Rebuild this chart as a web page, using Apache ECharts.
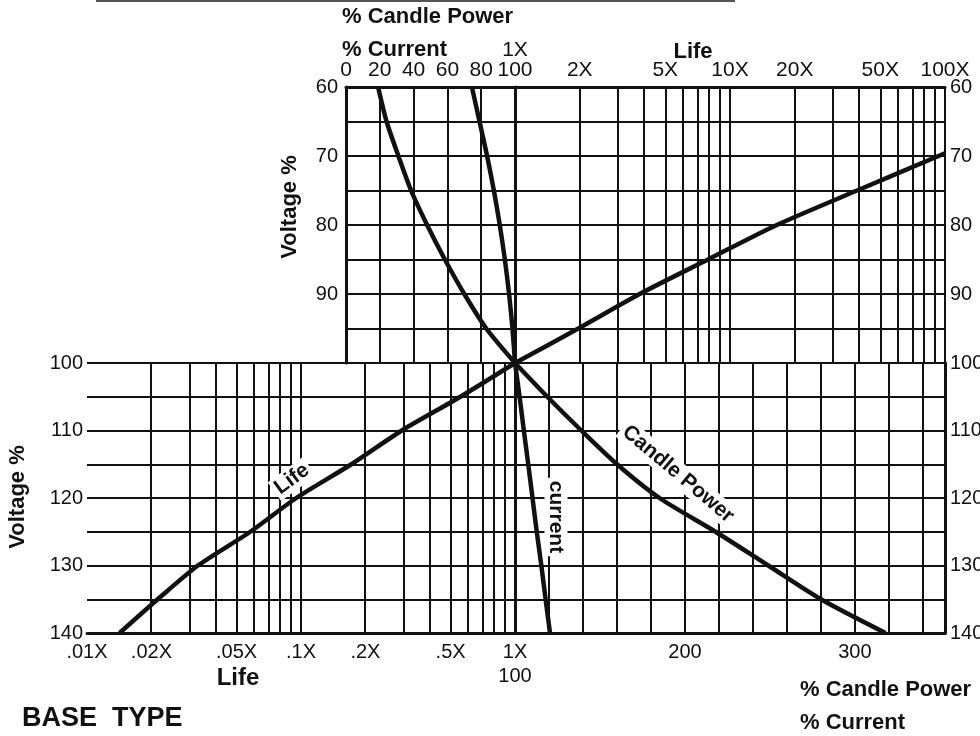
<!DOCTYPE html>
<html>
<head>
<meta charset="utf-8">
<title>Voltage vs Life, Candle Power, Current</title>
<script src="https://cdn.jsdelivr.net/npm/echarts@6.0.0/dist/echarts.min.js"></script>
<style>
  html, body { margin: 0; padding: 0; background: #fff; }
  #main { width: 980px; height: 736px; }
</style>
</head>
<body>
<div id="main"></div>
<script>
// values (voltage in % of rated)
var voltsUpper = [60, 65, 70, 75, 80, 85, 90, 95, 100];
var candleUpper = [19, 24, 31, 38.5, 48, 58.5, 70, 83, 100];
var currentUpper = [74.5, 79, 83.5, 87.5, 91, 94, 96.5, 98.5, 100];
var lifeVoltsUpper = [69.6, 75, 80, 85, 90, 95, 100];
var lifeUpper = [100, 39, 16.5, 7.9, 3.8, 1.97, 1];

var voltsLower = [100, 105, 110, 115, 120, 125, 130, 135, 140];
var candleLower = [100, 119, 139, 160, 185, 218, 249, 280, 318];
var currentLower = [100, 102.7, 105.2, 107.8, 110.3, 112.8, 115.5, 118, 120.6];
var lifeLower = [1, 0.556, 0.296, 0.172, 0.095, 0.058, 0.033, 0.0214, 0.0142];

// tick labels
var pctTicksTop = [0, 20, 40, 60, 80, 100];
var lifeTicksTop = [1, 2, 5, 10, 20, 50, 100];
var lifeLabelsTop = ['1X', '2X', '5X', '10X', '20X', '50X', '100X'];
var lifeTicksBottom = [0.01, 0.02, 0.05, 0.1, 0.2, 0.5, 1];
var lifeLabelsBottom = ['.01X', '.02X', '.05X', '.1X', '.2X', '.5X', '1X'];
var pctTicksBottom = [100, 200, 300];
var voltTicksUpper = [60, 70, 80, 90];
var voltTicksLower = [100, 110, 120, 130, 140];

// vertical grid lines of the log and lower % scales
var lifeGridUpper = [1, 2, 3, 4, 5, 6, 7, 8, 9, 10, 20, 30, 40, 50, 60, 70, 80, 90, 100];
var lifeGridLower = [0.02, 0.03, 0.04, 0.05, 0.06, 0.07, 0.08, 0.09, 0.1,
  0.2, 0.3, 0.4, 0.5, 0.6, 0.7, 0.8, 0.9, 1];
var pctGridLower = [100, 120, 140, 160, 180, 200, 220, 240, 260, 280, 300, 320, 340];

var INK = '#111';
var FONT = '"Liberation Sans", Arial, Helvetica, sans-serif';
var log = Math.log10;

var chart = echarts.init(document.getElementById('main'));

var border = { show: true, lineStyle: { color: INK, width: 3 } };
var grid = { show: true, lineStyle: { color: INK, width: 2, type: 'solid' } };

function label(size, margin) {
  return { color: INK, fontFamily: FONT, fontSize: size, margin: margin,
    showMinLabel: true, showMaxLabel: true };
}

function pick(ticks, names) {
  return function (v) {
    for (var i = 0; i < ticks.length; i++) {
      if (Math.abs(log(ticks[i]) - v) < 1e-6) return names[i];
    }
    return '';
  };
}

var xTop0 = label(21, 6);
xTop0.customValues = pctTicksTop;

var xTop1 = label(21, 6);
xTop1.customValues = lifeTicksTop.map(log);
xTop1.formatter = function (v) {
  var s = pick(lifeTicksTop, lifeLabelsTop)(v);
  return v === 0 ? '{up|' + s + '}' : s;
};
xTop1.rich = { up: { fontSize: 21, fontFamily: FONT, color: INK, padding: [0, 0, 20, 0] } };

var xBot2 = label(20, 9);
xBot2.customValues = lifeTicksBottom.map(log);
xBot2.formatter = pick(lifeTicksBottom, lifeLabelsBottom);

var xBot3 = label(20, 9);
xBot3.customValues = pctTicksBottom;
xBot3.formatter = function (v) {
  return v === 100 ? '{dn|100}' : String(v);
};
xBot3.rich = { dn: { fontSize: 20, fontFamily: FONT, color: INK, padding: [24, 0, 0, 0] } };

var yL0 = label(20, 8); yL0.customValues = voltTicksUpper;
var yR1 = label(20, 5); yR1.customValues = voltTicksUpper;
var yL2 = label(20, 4); yL2.customValues = voltTicksLower;
var yR3 = label(20, 5); yR3.customValues = voltTicksLower;

function yAxis(gi, pos, min, max, lab) {
  return {
    type: 'value', gridIndex: gi, position: pos, min: min, max: max, inverse: true,
    interval: 10, axisLine: border, axisTick: { show: false },
    minorTick: { show: false, splitNumber: 2 },
    splitLine: grid, minorSplitLine: grid, axisLabel: lab
  };
}

function gridLines(i, vals, toX) {
  return {
    type: 'line', xAxisIndex: i, yAxisIndex: i, data: [], silent: true, z: 1,
    markLine: {
      silent: true, symbol: ['none', 'none'], animation: false,
      label: { show: false }, emphasis: { disabled: true },
      lineStyle: { color: INK, width: 2, type: 'solid' },
      data: vals.map(function (v) { return { xAxis: toX(v) }; })
    }
  };
}

function curve(i, xs, ys) {
  return {
    type: 'line', xAxisIndex: i, yAxisIndex: i, z: 5, animation: false,
    showSymbol: false, symbol: 'none', smooth: 0.25,
    lineStyle: { color: INK, width: 4.5 },
    data: xs.map(function (x, k) { return [x, ys[k]]; })
  };
}

function text(str, x, y, align, size, rot, bg) {
  var el = {
    type: 'text', x: x, y: y, rotation: rot || 0, z: 50,
    style: {
      text: str, fill: INK, font: 'bold ' + size + 'px ' + FONT,
      align: align, textAlign: align, verticalAlign: 'middle', textVerticalAlign: 'middle'
    }
  };
  if (bg) { el.style.backgroundColor = '#fff'; el.style.padding = [1, 3]; }
  return el;
}

var option = {
  backgroundColor: '#fff',
  animation: false,
  grid: [
    { left: 346, top: 87, width: 169, height: 276, outerBoundsMode: 'none' },
    { left: 515, top: 87, width: 430, height: 276, outerBoundsMode: 'none' },
    { left: 87, top: 363, width: 428, height: 270, outerBoundsMode: 'none' },
    { left: 515, top: 363, width: 430, height: 270, outerBoundsMode: 'none' }
  ],
  xAxis: [
    { type: 'value', gridIndex: 0, position: 'top', min: 0, max: 100, interval: 20,
      axisLine: border, axisTick: { show: false }, splitLine: grid, axisLabel: xTop0 },
    { type: 'value', gridIndex: 1, position: 'top', min: 0, max: 2,
      axisLine: border, axisTick: { show: false }, splitLine: { show: false }, axisLabel: xTop1 },
    { type: 'value', gridIndex: 2, position: 'bottom', min: -2, max: 0,
      axisLine: border, axisTick: { show: false }, splitLine: { show: false }, axisLabel: xBot2 },
    { type: 'value', gridIndex: 3, position: 'bottom', min: 100, max: 353,
      axisLine: border, axisTick: { show: false }, splitLine: { show: false }, axisLabel: xBot3 }
  ],
  yAxis: [
    yAxis(0, 'left', 60, 100, yL0),
    yAxis(1, 'right', 60, 100, yR1),
    yAxis(2, 'left', 100, 140, yL2),
    yAxis(3, 'right', 100, 140, yR3)
  ],
  series: [
    gridLines(1, lifeGridUpper, log),
    gridLines(2, lifeGridLower, log),
    gridLines(3, pctGridLower, function (v) { return v; }),
    curve(0, candleUpper, voltsUpper),
    curve(0, currentUpper, voltsUpper),
    curve(1, lifeUpper.map(log), lifeVoltsUpper),
    curve(2, lifeLower.map(log), voltsLower),
    curve(3, candleLower, voltsLower),
    curve(3, currentLower, voltsLower)
  ],
  graphic: [
    { type: 'line', z: 50, shape: { x1: 96, y1: 1, x2: 735, y2: 1 },
      style: { stroke: '#555', lineWidth: 2 } },
    text('% Candle Power', 342, 17, 'left', 22),
    text('% Current', 342, 50, 'left', 22),
    text('Life', 693, 52, 'center', 22),
    text('Life', 238, 678, 'center', 24),
    text('% Candle Power', 800, 690, 'left', 22),
    text('% Current', 800, 723, 'left', 22),
    text('BASE  TYPE', 22, 719, 'left', 27),
    text('Voltage %', 290, 207, 'center', 22, Math.PI / 2),
    text('Voltage %', 18, 497, 'center', 22, Math.PI / 2),
    text('Life', 292, 479, 'center', 21, 0.63, true),
    text('current', 556, 517, 'center', 21, -Math.PI / 2, true),
    text('Candle Power', 678, 474, 'center', 21, -0.7, true)
  ]
};

chart.setOption(option);
</script>
</body>
</html>
